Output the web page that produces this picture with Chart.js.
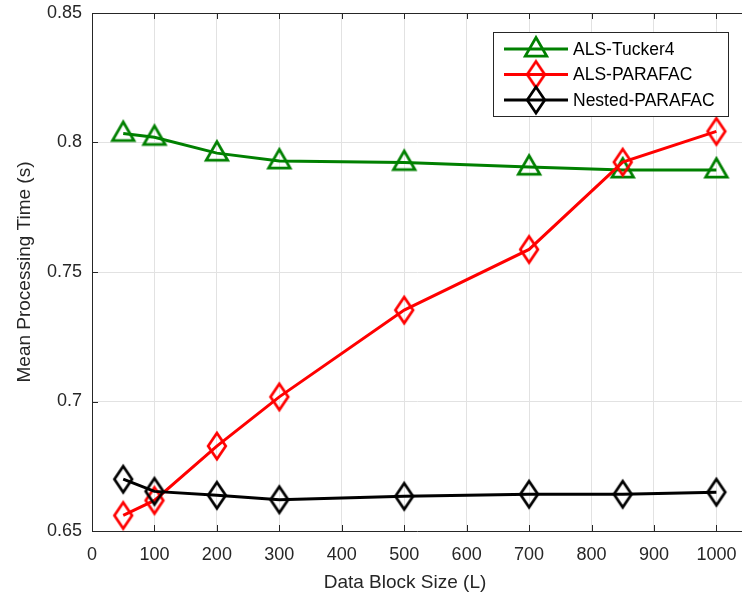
<!DOCTYPE html>
<html>
<head>
<meta charset="utf-8">
<script src="https://cdn.jsdelivr.net/npm/chart.js@4/dist/chart.umd.min.js"></script>
<style>
  html, body { margin: 0; padding: 0; background: #ffffff; overflow: hidden; }
  canvas { display: block; }
</style>
</head>
<body>
<canvas id="chart" width="742" height="597"></canvas>
<script>
// Mean processing time per data block size
const blockSizes   = [50, 100, 200, 300, 500, 700, 850, 1000];
const tucker4Times = [0.8035, 0.8020, 0.7959, 0.7929, 0.7923, 0.7905, 0.7894, 0.7894];
const parafacTimes = [0.6560, 0.6618, 0.6828, 0.7018, 0.7353, 0.7587, 0.7924, 0.8043];
const nestedTimes  = [0.6700, 0.6653, 0.6638, 0.6621, 0.6634, 0.6642, 0.6642, 0.6650];
const seriesNames  = ['ALS-Tucker4', 'ALS-PARAFAC', 'Nested-PARAFAC'];
const xTickValues  = [0, 100, 200, 300, 400, 500, 600, 700, 800, 900, 1000];
const yTickValues  = [0.65, 0.7, 0.75, 0.8, 0.85];
const xTitle = 'Data Block Size (L)';
const yTitle = 'Mean Processing Time (s)';

const FONT = '"Liberation Sans", Arial, Helvetica, sans-serif';
const AXIS_COLOR = '#262626';
const GRID_COLOR = '#e2e2e2';

// Hollow marker glyphs, centred on the data point
function triangleMarker(color) {
  const c = document.createElement('canvas');
  c.width = 40; c.height = 40;
  const g = c.getContext('2d');
  g.strokeStyle = color; g.lineWidth = 2.7; g.lineJoin = 'miter';
  g.beginPath();
  g.moveTo(20, 20 - 11.5);
  g.lineTo(20 + 10.8, 20 + 7.2);
  g.lineTo(20 - 10.8, 20 + 7.2);
  g.closePath();
  g.stroke();
  return c;
}
function diamondMarker(color) {
  const c = document.createElement('canvas');
  c.width = 40; c.height = 40;
  const g = c.getContext('2d');
  g.strokeStyle = color; g.lineWidth = 2.7; g.lineJoin = 'miter';
  g.beginPath();
  g.moveTo(20, 20 - 13);
  g.lineTo(20 + 8.8, 20);
  g.lineTo(20, 20 + 13);
  g.lineTo(20 - 8.8, 20);
  g.closePath();
  g.stroke();
  return c;
}

const colors  = ['#008000', '#ff0000', '#000000'];
const markers = [triangleMarker(colors[0]), diamondMarker(colors[1]), diamondMarker(colors[2])];
const values  = [tucker4Times, parafacTimes, nestedTimes];

const datasets = seriesNames.map((name, k) => ({
  label: name,
  data: blockSizes.map((x, i) => ({ x: x, y: values[k][i] })),
  borderColor: colors[k],
  backgroundColor: 'transparent',
  borderWidth: 3,
  pointStyle: markers[k],
  pointRadius: 12,
  pointHoverRadius: 12,
  tension: 0,
  fill: false,
  order: 3 - k
}));

// Top outline, inward ticks, axis titles and the boxed legend
const decorations = {
  id: 'decorations',
  afterDatasetsDraw(chart) {
    const { ctx, chartArea: a, scales: { x, y } } = chart;
    ctx.save();
    ctx.strokeStyle = AXIS_COLOR;
    ctx.lineWidth = 1;
    ctx.beginPath();
    ctx.moveTo(a.left, a.top + 0.5); ctx.lineTo(a.right, a.top + 0.5);
    xTickValues.forEach(v => {
      const px = Math.round(x.getPixelForValue(v)) + 0.5;
      ctx.moveTo(px, a.bottom); ctx.lineTo(px, a.bottom - 6);
      ctx.moveTo(px, a.top); ctx.lineTo(px, a.top + 6);
    });
    yTickValues.forEach(v => {
      const py = Math.round(y.getPixelForValue(v)) + 0.5;
      ctx.moveTo(a.left, py); ctx.lineTo(a.left + 6, py);
    });
    ctx.stroke();

    // axis titles
    ctx.fillStyle = AXIS_COLOR;
    ctx.font = '19px ' + FONT;
    ctx.textAlign = 'center';
    ctx.textBaseline = 'middle';
    ctx.fillText(xTitle, 405, 583);
    ctx.translate(25, (a.top + a.bottom) / 2);
    ctx.rotate(-Math.PI / 2);
    ctx.fillText(yTitle, 0, 0);
    ctx.restore();

    // legend
    ctx.save();
    const bx = 493.5, by = 32.5, bw = 235, bh = 84;
    ctx.fillStyle = '#ffffff';
    ctx.fillRect(bx, by, bw, bh);
    ctx.strokeStyle = AXIS_COLOR;
    ctx.lineWidth = 1;
    ctx.strokeRect(bx, by, bw, bh);
    ctx.font = '17.5px ' + FONT;
    ctx.textAlign = 'left';
    ctx.textBaseline = 'middle';
    const rows = [49, 74.5, 100];
    seriesNames.forEach((name, k) => {
      const ry = rows[k];
      ctx.strokeStyle = colors[k];
      ctx.lineWidth = 3;
      ctx.beginPath();
      ctx.moveTo(504, ry); ctx.lineTo(568, ry);
      ctx.stroke();
      ctx.drawImage(markers[k], 536 - 20, ry - 20);
      ctx.fillStyle = '#000000';
      ctx.fillText(name, 573, ry + 1);
    });
    ctx.restore();
  }
};

new Chart(document.getElementById('chart'), {
  type: 'line',
  data: { datasets: datasets },
  options: {
    responsive: false,
    animation: false,
    devicePixelRatio: 1,
    layout: { autoPadding: false, padding: { top: 13, right: 0, left: 0, bottom: 0 } },
    plugins: { legend: { display: false }, tooltip: { enabled: false } },
    scales: {
      x: {
        type: 'linear',
        min: 0, max: 1041,
        afterBuildTicks: s => { s.ticks = xTickValues.map(v => ({ value: v })); },
        afterFit: s => { s.height = 66; },
        grid: {
          color: GRID_COLOR, lineWidth: 1,
          drawTicks: true, tickLength: 13, tickColor: 'rgba(0,0,0,0)'
        },
        border: { color: AXIS_COLOR, width: 1 },
        ticks: {
          color: AXIS_COLOR, font: { family: FONT, size: 18 }, padding: 0,
          maxRotation: 0, autoSkip: false, callback: v => String(v)
        }
      },
      y: {
        min: 0.65, max: 0.85,
        afterBuildTicks: s => { s.ticks = yTickValues.map(v => ({ value: v })); },
        afterFit: s => { s.width = 92; s.paddingTop = 0; s.paddingBottom = 0; },
        grid: { color: GRID_COLOR, drawTicks: false, lineWidth: 1 },
        border: { color: AXIS_COLOR, width: 1 },
        ticks: {
          color: AXIS_COLOR, font: { family: FONT, size: 18 }, padding: 10,
          autoSkip: false, callback: v => String(v)
        }
      }
    }
  },
  plugins: [decorations]
});
</script>
</body>
</html>
